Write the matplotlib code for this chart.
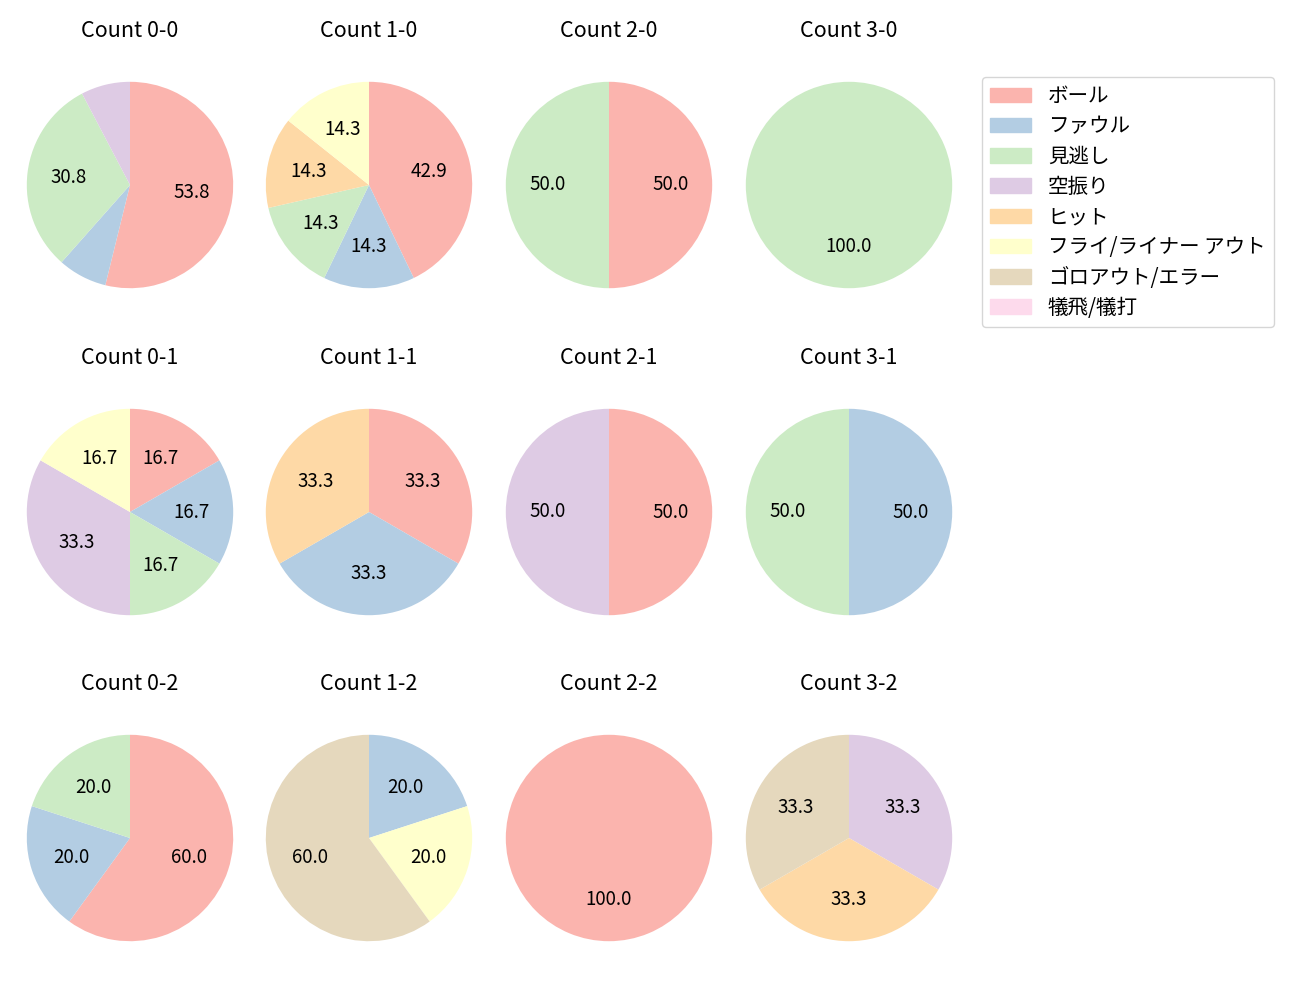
import matplotlib
matplotlib.use('Agg')
import matplotlib.pyplot as plt

plt.rcParams['font.family'] = ['Noto Sans CJK JP', 'DejaVu Sans']

categories = ['ボール', 'ファウル', '見逃し', '空振り', 'ヒット',
              'フライ/ライナー アウト', 'ゴロアウト/エラー', '犠飛/犠打']
colors = plt.get_cmap('Pastel1').colors[:8]

# counts per category for each ball-strike count
counts = {
    '0-0': [7, 1, 4, 1, 0, 0, 0, 0],
    '1-0': [3, 1, 1, 0, 1, 1, 0, 0],
    '2-0': [1, 0, 1, 0, 0, 0, 0, 0],
    '3-0': [0, 0, 1, 0, 0, 0, 0, 0],
    '0-1': [1, 1, 1, 2, 0, 1, 0, 0],
    '1-1': [1, 1, 0, 0, 1, 0, 0, 0],
    '2-1': [1, 0, 0, 1, 0, 0, 0, 0],
    '3-1': [0, 1, 1, 0, 0, 0, 0, 0],
    '0-2': [3, 1, 1, 0, 0, 0, 0, 0],
    '1-2': [0, 1, 0, 0, 0, 1, 3, 0],
    '2-2': [1, 0, 0, 0, 0, 0, 0, 0],
    '3-2': [0, 0, 0, 1, 1, 0, 1, 0],
}
strikes = [0, 1, 2]
balls = [0, 1, 2, 3]

fig = plt.figure(figsize=(13, 10), dpi=100)
W, H = 1300, 1000
box = 258
xc = [130, 369, 609, 849]
yc = [185, 512, 838]

for r, s in enumerate(strikes):
    for c, b in enumerate(balls):
        key = f'{b}-{s}'
        ax = fig.add_axes([(xc[c] - box / 2) / W, 1 - (yc[r] + box / 2) / H, box / W, box / H])
        vals = counts[key]
        ax.pie(vals, colors=colors, startangle=90, counterclock=False,
               autopct=lambda p: f'{p:.1f}' if p >= 10 else '',
               textprops={'fontsize': 13.5})
        ax.set_title(f'Count {key}', fontsize=15.5, pad=14)

handles = [plt.Rectangle((0, 0), 1, 1, color=col) for col in colors]
fig.legend(handles, categories, loc='upper left', bbox_to_anchor=(982 / W, 1 - 77 / H),
           fontsize=14.8, labelspacing=0.4, borderaxespad=0)

fig.savefig('out.png')
